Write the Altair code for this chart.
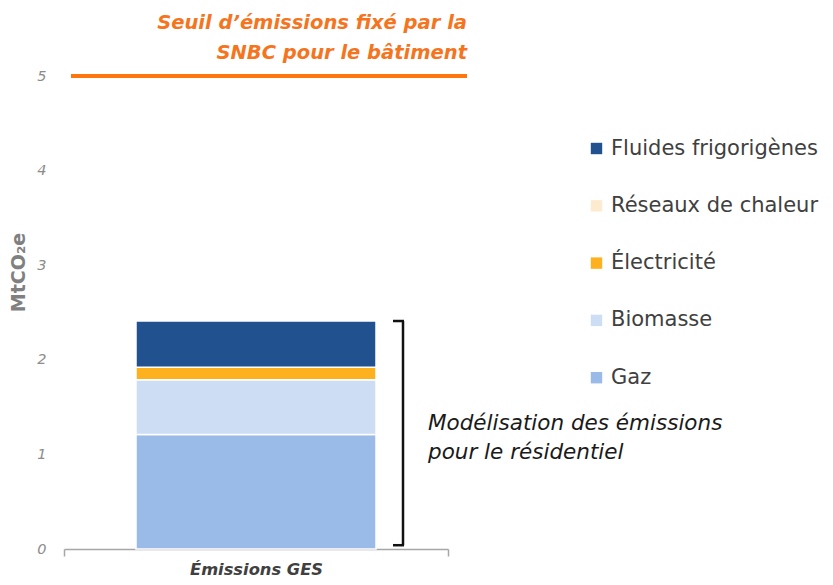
import altair as alt
import pandas as pd

# ---- data ----
category = "Émissions GES"
series = ["Gaz", "Biomasse", "Électricité", "Réseaux de chaleur", "Fluides frigorigènes"]
values = [1.21, 0.58, 0.13, 0.0, 0.49]
stack_order = [0, 1, 2, 3, 4]
legend_order = ["Fluides frigorigènes", "Réseaux de chaleur", "Électricité", "Biomasse", "Gaz"]
legend_colors = ["#21528F", "#FDEBD0", "#FDB11E", "#CCDDF4", "#9ABAE8"]
threshold = 5
threshold_label = ["Seuil d’émissions fixé par la", "SNBC pour le bâtiment"]
bracket_label = ["Modélisation des émissions", "pour le résidentiel"]
bracket_bottom = 0.04

df = pd.DataFrame({"cat": [category] * len(series), "serie": series,
                   "val": values, "ord": stack_order})
total = sum(values)

W, H = 384, 473
FONT = "DejaVu Sans"

bars = alt.Chart(df).mark_bar(size=240, stroke="white", strokeWidth=1.5).encode(
    x=alt.X("cat:N", title=None,
            scale=alt.Scale(paddingInner=0, paddingOuter=0),
            axis=alt.Axis(labelFont=FONT, labelFontSize=16.3, labelFontWeight="bold",
                          labelFontStyle="italic", labelColor="#404040",
                          domainColor="#A6A6A6", domainWidth=1.5, tickColor="#A6A6A6",
                          tickWidth=1.5, tickSize=7, tickBand="extent", labelPadding=5,
                          labelAngle=0)),
    y=alt.Y("val:Q", stack="zero",
            scale=alt.Scale(domain=[0, 5], nice=False),
            axis=alt.Axis(values=[0, 1, 2, 3, 4, 5], format="d", grid=False, domain=False,
                          ticks=False, labelFont=FONT, labelFontSize=14.5,
                          labelFontStyle="italic", labelColor="#8C8C8C", labelPadding=18,
                          title="MtCO₂e", titleFont=FONT, titleFontSize=19,
                          titleFontWeight="bold", titleColor="#808080",
                          titleX=-46, titleY=196, titleAngle=-90, titleAlign="center",
                          titleBaseline="middle")),
    color=alt.Color("serie:N",
                    scale=alt.Scale(domain=legend_order, range=legend_colors),
                    legend=alt.Legend(title=None, orient="none", legendX=522, legendY=62,
                                      symbolType="square", symbolSize=130,
                                      symbolStrokeWidth=0, labelFont=FONT,
                                      labelFontSize=21, labelColor="#404040",
                                      labelLimit=300, rowPadding=35.3, labelOffset=4)),
    order=alt.Order("ord:Q", sort="ascending"),
)

thr_df = pd.DataFrame({"y": [threshold]})
thr_line = alt.Chart(thr_df).mark_rule(color="#FF760F", strokeWidth=4).encode(
    y="y:Q", x=alt.value(7), x2=alt.value(403))

thr_text = alt.Chart(pd.DataFrame({"t": threshold_label, "py": [-53, -23]})).mark_text(
    align="right", baseline="middle", font=FONT, fontSize=19.5, fontWeight="bold",
    fontStyle="italic", color="#F5751F").encode(
    text="t:N", x=alt.value(403), y=alt.Y("py:Q", scale=None))

br_df = pd.DataFrame({"top": [total], "bot": [bracket_bottom]})
br_v = alt.Chart(br_df).mark_rule(color="#111111", strokeWidth=2.5).encode(
    x=alt.value(339), y="top:Q", y2="bot:Q")
br_t = alt.Chart(br_df).mark_rule(color="#111111", strokeWidth=2.5).encode(
    x=alt.value(329), x2=alt.value(340), y="top:Q")
br_b = alt.Chart(br_df).mark_rule(color="#111111", strokeWidth=2.5).encode(
    x=alt.value(329), x2=alt.value(340), y="bot:Q")

br_text = alt.Chart(pd.DataFrame({"t": bracket_label, "py": [348, 377]})).mark_text(
    align="left", baseline="middle", font=FONT, fontSize=21.5, fontStyle="italic",
    color="#1A1A1A").encode(
    text="t:N", x=alt.value(364), y=alt.Y("py:Q", scale=None))

chart = alt.layer(bars, thr_line, thr_text, br_v, br_t, br_b, br_text).properties(
    width=W, height=H,
    autosize=alt.AutoSizeParams(type="none"),
    padding={"left": 56, "top": 68, "right": 377, "bottom": 28},
).configure_view(stroke=None)

chart.save("out.html", embed_options={"renderer": "svg", "actions": False})
